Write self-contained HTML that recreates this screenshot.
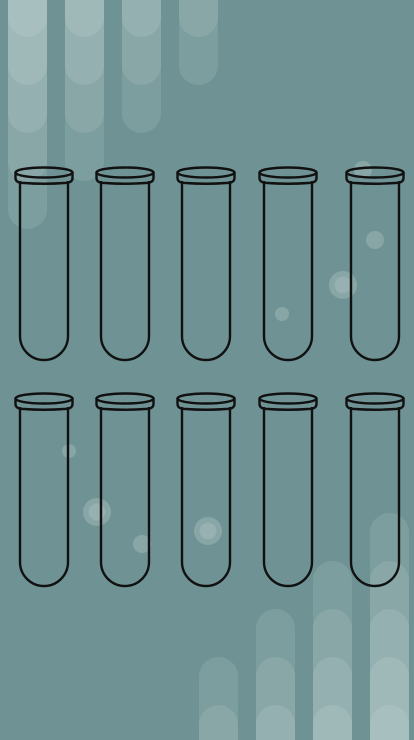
<!DOCTYPE html>
<html><head><meta charset="utf-8">
<style>
html,body{margin:0;padding:0;width:414px;height:740px;overflow:hidden;background:#6f9394;}
svg{display:block}
</style></head>
<body>
<svg id="scene" width="414" height="740" viewBox="0 0 414 740" xmlns="http://www.w3.org/2000/svg">
<rect width="414" height="740" fill="#6f9394"/>
<g id="deco"></g>
<g id="bubbles"></g>
<g id="tubes"></g>
</svg>
<script>
const NS="http://www.w3.org/2000/svg";
const tubeCenters=[44,125,206,288,375];
const tubeRows=[166,392];
const topCols=[[8,5],[65,4],[122,3],[179,2]];
const botCols=[[199,2],[256,3],[313,4],[370,5]];
const bubbleList=[[375,240,9],[343,285,14],[282,314,7],[363,170,9],[69,451,7],[97,512,14],[142,544,9],[208,531,14]];
function mk(t,a){const e=document.createElementNS(NS,t);for(const k in a)e.setAttribute(k,a[k]);return e;}
const deco=document.getElementById('deco');
const W=39,R=19.5,STEP=48;
topCols.forEach(([x,n])=>{
  for(let i=0;i<n;i++){
    const b=37+STEP*i;
    const p=mk('path',{d:`M${x} 0 H${x+W} V${b-R} A${R} ${R} 0 0 1 ${x} ${b-R} Z`,fill:'#ffffff','fill-opacity':'0.1'});
    
    
    deco.appendChild(p);
  }
});
botCols.forEach(([x,n])=>{
  for(let i=0;i<n;i++){
    const tt=705-STEP*(n-1-i);
    const p=mk('path',{d:`M${x} 740 V${tt+R} A${R} ${R} 0 0 1 ${x+W} ${tt+R} V740 Z`,fill:'#ffffff','fill-opacity':'0.1'});
    
    
    deco.appendChild(p);
  }
});
const bub=document.getElementById('bubbles');
bubbleList.forEach(([x,y,r])=>{
  const c=mk('circle',{cx:x,cy:y,r:r,fill:'#ffffff','fill-opacity':'0.18'});
  
  
  bub.appendChild(c);
  if(r>10){const c2=mk('circle',{cx:x,cy:y,r:r*0.6,fill:'#ffffff','fill-opacity':'0.12'});
  
  
  bub.appendChild(c2);}
});
const tubes=document.getElementById('tubes');
tubeRows.forEach(y0=>{
  tubeCenters.forEach(cx=>{
    const g=mk('g',{fill:'none',stroke:'#111',"stroke-width":'2.4'});
    
    
    const l=cx-24,r=cx+24,bot=y0+194,rr=24;
    const body=mk('path',{d:`M${l} ${y0+15} V${bot-rr} A${rr} ${rr} 0 0 0 ${r} ${bot-rr} V${y0+15}`});
    
    
    g.appendChild(body);
    const rim=mk('path',{d:`M${cx-28.5} ${y0+6} V${y0+12} Q${cx-28.5} ${y0+17} ${cx-20} ${y0+17} Q${cx} ${y0+18.5} ${cx+20} ${y0+17} Q${cx+28.5} ${y0+17} ${cx+28.5} ${y0+12} V${y0+6}`});
    
    
    g.appendChild(rim);
    const el=mk('ellipse',{cx:cx,cy:y0+6.5,rx:28.5,ry:5});
    
    
    g.appendChild(el);
    tubes.appendChild(g);
  });
});
</script>
</body></html>
